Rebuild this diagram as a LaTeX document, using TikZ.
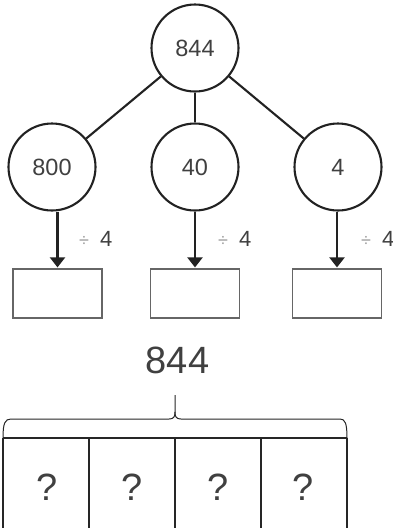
\documentclass[tikz,border=0pt]{standalone}
\usepackage{fontspec}
\setmainfont{Liberation Sans}
\usetikzlibrary{arrows.meta}
\definecolor{txt}{HTML}{404040}
\definecolor{divc}{HTML}{9A9A9A}
\definecolor{ln}{HTML}{222222}
\definecolor{bx}{HTML}{666666}
\newcommand{\divfour}{\textcolor{divc}{\fontsize{18}{18}\selectfont ÷}\hspace{11pt}4}
\begin{document}
\begin{tikzpicture}[x=1pt,y=-1pt,
  numcirc/.style={circle,draw=ln,line width=2.1pt,minimum size=87pt,inner sep=0pt,
    text=txt,font=\fontsize{23.5}{23.5}\selectfont},
  answerbox/.style={rectangle,draw=bx,line width=1.2pt,minimum width=89pt,minimum height=49pt,inner sep=0pt},
  branch/.style={draw=ln,line width=2.1pt},
  divarrow/.style={draw=ln,line width=2.1pt,-{Triangle[width=15pt,length=10pt]},shorten >=1pt},
  divlabel/.style={anchor=west,text=txt,font=\fontsize{22}{22}\selectfont,inner sep=0pt},
  qmark/.style={anchor=base,text=txt,font=\fontsize{38}{38}\selectfont,inner sep=0pt},
  barline/.style={draw=black!85,line width=1.5pt}]
\useasboundingbox (0,0) rectangle (392,528);
\fill[white] (0,0) rectangle (392,528);
% tree
\node[numcirc] (t) at (195,48) {844};
\node[numcirc] (a) at (52,167) {800};
\node[numcirc] (b) at (195,167) {40};
\node[numcirc] (c) at (338,167) {4};
\draw[branch] (t) -- (a);
\draw[branch] (t) -- (b);
\draw[branch] (t) -- (c);
\node[answerbox] (ba) at (57.5,293.5) {};
\node[answerbox] (bb) at (195,293.5) {};
\node[answerbox] (bc) at (337,293.5) {};
\draw[divarrow] (a.south -| ba.north) -- (ba.north);
\draw[divarrow] (b.south -| bb.north) -- (bb.north);
\draw[divarrow] (c.south -| bc.north) -- (bc.north);
\node[divlabel] (la) at (79,239) {\divfour};
\node[divlabel] (lb) at (218,239) {\divfour};
\node[divlabel] (lc) at (361,239) {\divfour};
% bar model
\node[anchor=base,text=txt,font=\fontsize{38}{38}\selectfont,inner sep=0pt] (total) at (177.5,373) {844};
\draw[draw=black!85,line width=1pt] (3,438) .. controls (3,423) and (5,419) .. (11,419)
  -- (169,419) .. controls (173.5,419) and (175,417) .. (175,412) -- (175,395);
\draw[draw=black!85,line width=1pt] (175,412) .. controls (175,417) and (176.5,419) .. (181,419)
  -- (340,419) .. controls (345,419) and (347,423) .. (347,438);
\coordinate (bl) at (3,438);
\coordinate (br) at (347,438);
\draw[barline] (bl) -- (br);
\draw[barline] (3,438) -- (3,540);
\draw[barline] (89,438) -- (89,540);
\draw[barline] (175,438) -- (175,540);
\draw[barline] (261,438) -- (261,540);
\draw[barline] (347,438) -- (347,540);
\node[qmark] (q1) at (47,500) {?};
\node[qmark] (q2) at (132,500) {?};
\node[qmark] (q3) at (218,500) {?};
\node[qmark] (q4) at (303,500) {?};
\end{tikzpicture}
\end{document}
